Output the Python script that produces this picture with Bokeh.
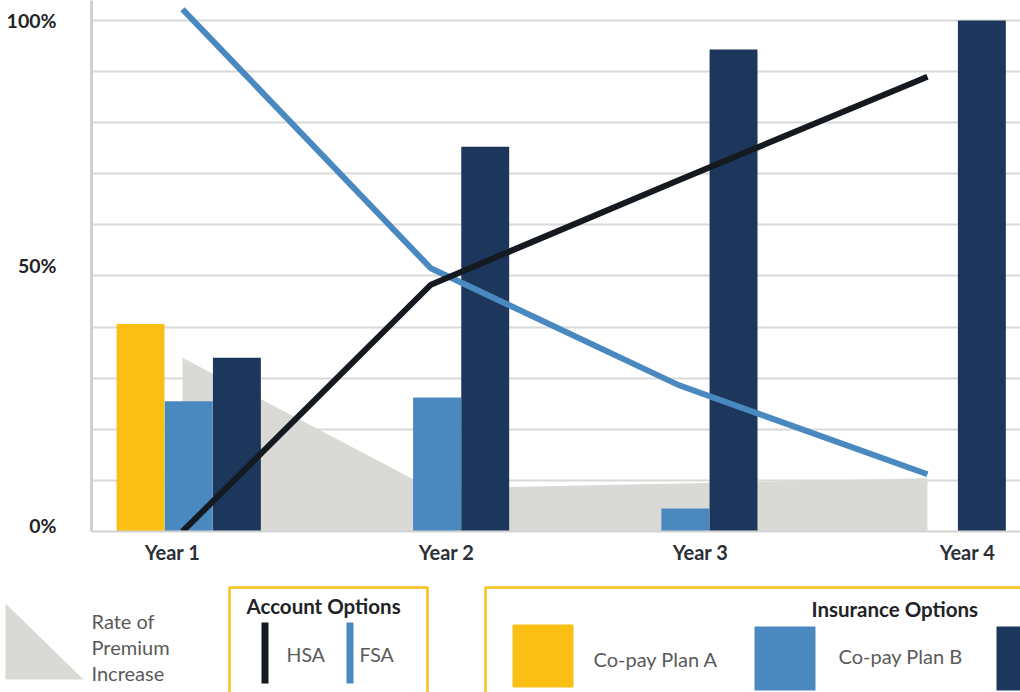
from bokeh.plotting import figure
from bokeh.models import Range1d, FixedTicker
from bokeh.core.properties import value
from bokeh.embed import file_html
from bokeh.resources import INLINE

# ---------------- data ----------------
years = ["Year 1", "Year 2", "Year 3", "Year 4"]
plan_a = [40.6, 0, 0, 0]        # Co-pay Plan A (yellow)
plan_b = [25.5, 26.2, 4.5, 0]   # Co-pay Plan B (blue)
plan_c = [34, 75.3, 94.3, 100]  # third insurance option (navy)
hsa = [0, 48.3, 68.8, 89.0]     # HSA line
fsa = [102.2, 51.5, 28.6, 11.2] # FSA line
premium = [34, 8.4, 9.4, 10.4]  # Rate of premium increase (area)
y_tick_labels = ["0%", "50%", "100%"]

# ---------------- styling / layout ----------------
YELLOW = "#FBBE14"
BLUE = "#4A89BF"
NAVY = "#1C365C"
BLACK = "#141A20"
AREA = "#D9D9D5"
GRID = "#D9D9D9"
FONT = "Lato"

bar_w = 0.193
off_a, off_b, off_c = -0.169, 0.025, 0.219
year_label_shift = [-0.04, 0.063, 0.086, 0.161]
y_label_shift = [1.2, 2.0, 0.0]

top = figure(width=1020, height=575, output_backend="svg", toolbar_location=None,
             x_range=Range1d(-0.3665, 3.3746), y_range=Range1d(0, 103.91),
             min_border_left=91, min_border_right=0, min_border_top=0,
             min_border_bottom=44)
top.outline_line_color = None
top.background_fill_color = "white"
top.border_fill_color = "white"

# grid
top.xgrid.visible = False
top.ygrid.ticker = FixedTicker(ticks=list(range(0, 101, 10)))
top.ygrid.grid_line_color = GRID
top.ygrid.grid_line_width = 2

# y axis
yt = [v + s for v, s in zip([0, 50, 100], y_label_shift)]
top.yaxis.ticker = FixedTicker(ticks=yt)
top.yaxis.major_label_overrides = {t: lab for t, lab in zip(yt, y_tick_labels)}
top.yaxis.axis_line_color = "#D0D0D0"
top.yaxis.axis_line_width = 3
top.yaxis.major_tick_line_color = None
top.yaxis.minor_tick_line_color = None
top.yaxis.major_label_standoff = 29
top.yaxis.major_label_text_font = FONT
top.yaxis.major_label_text_font_style = "bold"
top.yaxis.major_label_text_font_size = "19.5px"
top.yaxis.major_label_text_color = "#1F2328"

# x axis
xt = [i + s for i, s in enumerate(year_label_shift)]
top.xaxis.ticker = FixedTicker(ticks=xt)
top.xaxis.major_label_overrides = {t: lab for t, lab in zip(xt, years)}
top.xaxis.axis_line_color = "#D3D3D3"
top.xaxis.axis_line_width = 2
top.xaxis.major_tick_line_color = None
top.xaxis.minor_tick_line_color = None
top.xaxis.major_label_standoff = 2
top.xaxis.major_label_text_font = FONT
top.xaxis.major_label_text_font_style = "bold"
top.xaxis.major_label_text_font_size = "20px"
top.xaxis.major_label_text_color = "#2B2F36"

idx = list(range(len(years)))

# area
top.varea(x=idx, y1=[0] * len(idx), y2=premium, fill_color=AREA)


def bars(vals, off, color):
    xs = [i + off for i, v in zip(idx, vals) if v > 0]
    ys = [v for v in vals if v > 0]
    top.vbar(x=xs, top=ys, bottom=0, width=bar_w, fill_color=color, line_color=None)


bars(plan_a, off_a, YELLOW)
bars(plan_b, off_b, BLUE)
bars(plan_c, off_c, NAVY)

top.line(idx, fsa, line_color=BLUE, line_width=6, line_join="miter", line_cap="butt")
top.line(idx, hsa, line_color=BLACK, line_width=6, line_join="miter", line_cap="butt")

# ---------------- legend panel ----------------
leg = figure(width=1020, height=117, output_backend="svg", toolbar_location=None,
             x_range=Range1d(0, 1020), y_range=Range1d(692, 575), min_border=0,
             min_border_left=0, min_border_right=0, min_border_top=0, min_border_bottom=0)
leg.outline_line_color = None
leg.axis.visible = False
leg.grid.visible = False

# premium triangle
leg.patch([5, 83, 5], [603, 679, 679], fill_color=AREA, line_color=None)
leg.text(x=[91, 91, 91], y=[620, 646, 672], text=["Rate of", "Premium", "Increase"],
         text_font=value(FONT), text_font_size="20px", text_color="#5A5A5A",
         text_baseline="middle", text_align="left")

# account options box
leg.quad(left=229, right=427, top=587, bottom=705, fill_color=None,
         line_color="#FBBF1A", line_width=2.5)
leg.text(x=[246], y=[605], text=["Account Options"], text_font=value(FONT),
         text_font_style="bold", text_font_size="20.5px", text_color="#1F2328",
         text_baseline="middle", text_align="left")
leg.quad(left=261, right=268, top=622, bottom=683, fill_color=BLACK, line_color=None)
leg.quad(left=346, right=353, top=622, bottom=683, fill_color=BLUE, line_color=None)
leg.text(x=[286, 359], y=[654, 654], text=["HSA", "FSA"], text_font=value(FONT),
         text_font_size="19.5px", text_color="#5A5A5A",
         text_baseline="middle", text_align="left")

# insurance options box
leg.quad(left=485, right=1040, top=587, bottom=705, fill_color=None,
         line_color="#FBBF1A", line_width=2.5)
leg.text(x=[811], y=[608], text=["Insurance Options"], text_font=value(FONT),
         text_font_style="bold", text_font_size="20.5px", text_color="#1F2328",
         text_baseline="middle", text_align="left")
leg.quad(left=512, right=573, top=624, bottom=687, fill_color=YELLOW, line_color=None)
leg.quad(left=754, right=815, top=626, bottom=690, fill_color=BLUE, line_color=None)
leg.quad(left=996, right=1030, top=626, bottom=690, fill_color=NAVY, line_color=None)
leg.text(x=[593, 838], y=[658, 655], text=["Co-pay Plan A", "Co-pay Plan B"],
         text_font=value(FONT), text_font_size="20px", text_color="#5A5A5A",
         text_baseline="middle", text_align="left")

open("out.html", "w").write(file_html([top, leg], INLINE))
